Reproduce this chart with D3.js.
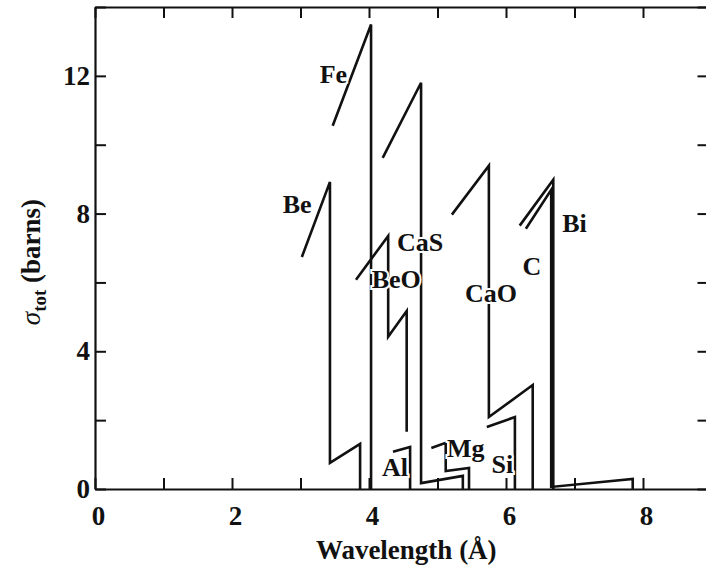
<!DOCTYPE html>
<html>
<head>
<meta charset="utf-8">
<script src="https://cdn.jsdelivr.net/npm/d3@7"></script>
<style>
  html, body { margin: 0; padding: 0; background: #fff; }
  svg { display: block; }
  text { font-family: "Liberation Serif", "DejaVu Serif", serif; font-weight: bold; fill: #111; }
</style>
</head>
<body>
<svg id="chart" width="706" height="567"></svg>
<script>
// Total neutron cross-section vs wavelength: Bragg-cutoff sawtooth segments.
// Each curve is a list of [wavelength (Å), sigma (barns)] points.
const feCurve  = [[3.47, 10.55], [4.03, 13.49], [4.03, 0]];
const beCurve  = [[3.02, 6.74], [3.43, 8.92], [3.43, 0.76], [3.87, 1.31], [3.87, 0]];
const beoCurve = [[3.81, 6.08], [4.28, 7.35], [4.28, 4.42], [4.55, 5.17], [4.55, 1.66]];
const alCurve  = [[4.35, 1.08], [4.60, 1.22], [4.60, 0]];
const casCurve = [[4.20, 9.62], [4.76, 11.80], [4.76, 0.17], [5.37, 0.38], [5.37, 0]];
const mgCurve  = [[4.91, 1.19], [5.12, 1.34], [5.12, 0.52], [5.46, 0.61], [5.46, 0]];
const caoCurve = [[5.21, 7.97], [5.75, 9.39], [5.75, 2.09], [6.39, 3.02], [6.39, 0]];
const siCurve  = [[5.72, 1.80], [6.13, 2.09], [6.13, 0]];
const cCurve   = [[6.20, 7.65], [6.69, 8.98], [6.69, 0]];
const biCurve  = [[6.29, 7.56], [6.66, 8.69], [6.66, 0.06], [7.85, 0.29], [7.85, 0]];

const curves = [feCurve, beCurve, beoCurve, alCurve, casCurve, mgCurve, caoCurve, siCurve, cCurve, biCurve];

// Curve labels: name and the [wavelength, sigma] spot of the label's left baseline
const labelNames  = ["Fe", "Be", "BeO", "Al", "CaS", "Mg", "CaO", "Si", "C", "Bi"];
const labelPoints = [[3.28, 11.8], [2.74, 8.03], [4.04, 5.85], [4.19, 0.38], [4.41, 6.91],
                     [5.14, 0.93], [5.40, 5.43], [5.79, 0.47], [6.24, 6.22], [6.82, 7.47]];

const xTicks = [0, 1, 2, 3, 4, 5, 6, 7, 8, 9];
const xTickLabels = [0, 2, 4, 6, 8];
const yTicks = [0, 2, 4, 6, 8, 10, 12, 14];
const yTickLabels = [0, 4, 8, 12];

const svg = d3.select("#chart");
const mLeft = 95, mTop = 7, mBottom = 489;
const mRight = mLeft + 9 * 68.5;

const x = d3.scaleLinear().domain([0, 9]).range([mLeft, mRight]);
const y = d3.scaleLinear().domain([0, 14]).range([mBottom, mTop]);

const tickLen = 11;
const fontSize = 27;

function styleAxis(g) {
  g.select(".domain").attr("stroke", "#111").attr("stroke-width", 2.2);
  g.selectAll(".tick line").attr("stroke", "#111").attr("stroke-width", 2);
  g.selectAll(".tick text").attr("font-size", fontSize).attr("fill", "#111")
    .attr("font-family", '"Liberation Serif", serif').attr("font-weight", "bold");
}

// Bottom axis with inward ticks
svg.append("g").attr("transform", `translate(0,${mBottom})`)
  .call(d3.axisBottom(x).tickValues(xTicks).tickSizeInner(-tickLen).tickSizeOuter(0)
    .tickPadding(17).tickFormat(d => xTickLabels.includes(d) ? d : ""))
  .call(styleAxis)
  .call(g => g.selectAll(".tick text").attr("dx", 3));

// Top axis, ticks only
svg.append("g").attr("transform", `translate(0,${mTop})`)
  .call(d3.axisTop(x).tickValues(xTicks).tickSizeInner(-tickLen).tickSizeOuter(0).tickFormat(""))
  .call(styleAxis);

// Left axis with inward ticks
svg.append("g").attr("transform", `translate(${mLeft},0)`)
  .call(d3.axisLeft(y).tickValues(yTicks).tickSizeInner(-tickLen).tickSizeOuter(0)
    .tickPadding(5).tickFormat(d => yTickLabels.includes(d) ? d : ""))
  .call(styleAxis);

// Right axis, ticks only
svg.append("g").attr("transform", `translate(${mRight},0)`)
  .call(d3.axisRight(y).tickValues(yTicks).tickSizeInner(-14).tickSizeOuter(0).tickFormat(""))
  .call(styleAxis);

// Curves
const line = d3.line().x(d => x(d[0])).y(d => y(d[1]));
svg.append("g").selectAll("path").data(curves).join("path")
  .attr("d", line)
  .attr("fill", "none")
  .attr("stroke", "#111")
  .attr("stroke-width", 2.6)
  .attr("stroke-linejoin", "miter");

// Curve labels, with a white halo so lines behind them break
svg.append("g").selectAll("text").data(labelNames).join("text")
  .attr("x", (d, i) => x(labelPoints[i][0]))
  .attr("y", (d, i) => y(labelPoints[i][1]))
  .attr("font-size", 26)
  .attr("stroke", "#fff").attr("stroke-width", 4).attr("paint-order", "stroke")
  .text(d => d);

// Axis titles
svg.append("text")
  .attr("x", (mLeft + mRight) / 2 + 3).attr("y", 559)
  .attr("text-anchor", "middle")
  .attr("font-size", fontSize)
  .text("Wavelength (Å)");

const yTitle = svg.append("text")
  .attr("transform", `translate(40,262) rotate(-90)`)
  .attr("text-anchor", "middle")
  .attr("font-size", fontSize);
yTitle.append("tspan").attr("font-style", "italic").attr("font-weight", "normal").text("σ");
yTitle.append("tspan").attr("font-size", 19).attr("dy", 6).text("tot");
yTitle.append("tspan").attr("dy", -6).text(" (barns)");
</script>
</body>
</html>
